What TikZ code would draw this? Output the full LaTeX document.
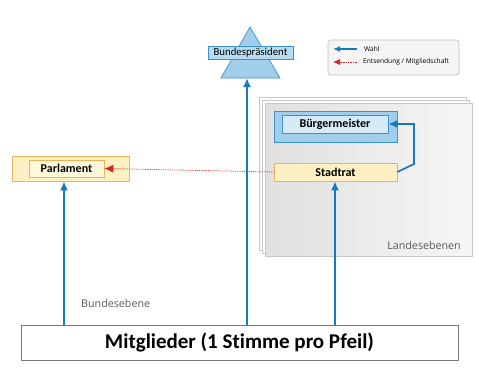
\documentclass[tikz,border=0pt]{standalone}
\usepackage{fontspec}
\setmainfont{Carlito}[Ligatures={NoCommon}]
\newfontfamily\opensansfam{Open Sans}
\usetikzlibrary{arrows.meta}
\definecolor{wahlblue}{RGB}{22,122,192}
\definecolor{entsred}{RGB}{215,35,35}
\definecolor{orgbord}{RGB}{242,178,92}
\definecolor{yelout}{RGB}{253,240,196}
\definecolor{yelin}{RGB}{255,248,218}
\definecolor{bluebord}{RGB}{62,145,205}
\definecolor{blueout}{RGB}{160,206,235}
\definecolor{bluein}{RGB}{214,235,248}
\definecolor{txtgray}{RGB}{90,90,90}
\tikzset{
  wahl/.style={draw=wahlblue, line width=1.7pt, -{Latex[length=9pt,width=8pt]}},
  ents/.style={draw=entsred, densely dotted, line width=0.8pt, -{Latex[length=9pt,width=8pt]}},
  yelbox/.style={draw=orgbord, line width=0.7pt, fill=yelout, inner sep=0pt},
  yelinbox/.style={draw=orgbord, line width=0.7pt, fill=yelin, inner sep=0pt, font=\bfseries\fontsize{12}{13}\selectfont},
  bluebox/.style={draw=bluebord, line width=0.7pt, fill=blueout, inner sep=0pt},
  blueinbox/.style={draw=bluebord, line width=0.7pt, fill=bluein, inner sep=0pt, font=\bfseries\fontsize{12}{13}\selectfont},
  panelback/.style={draw={rgb,255:red,200;green,200;blue,200}, fill=white, line width=0.5pt},
  levellabel/.style={text=txtgray, inner sep=0pt, font=\opensansfam\fontsize{10.7}{12}\selectfont},
  legtext/.style={inner sep=0pt, anchor=west, font=\opensansfam\fontsize{6.6}{7}\selectfont}
}
\begin{document}
\begin{tikzpicture}[x=1pt,y=-1pt]
\useasboundingbox (0,0) rectangle (479,369);
% Landesebenen panels
\draw[panelback] (259,97) rectangle (466,250);
\draw[panelback] (262,100) rectangle (469,253);
\draw[draw={rgb,255:red,200;green,200;blue,200}, line width=0.5pt, left color={rgb,255:red,224;green,224;blue,224}, right color={rgb,255:red,246;green,246;blue,246}] (265,103) rectangle (472,256);
\node[levellabel, anchor=base east] (landlbl) at (461,249) {Landesebenen};
% Buergermeister
\node[bluebox, minimum width=123pt, minimum height=31pt] (bmout) at (335.5,126.5) {};
\node[blueinbox, minimum width=106pt, minimum height=18pt] (bm) at (335,124) {Bürgermeister};
% Stadtrat
\node[yelinbox, fill=yelout, minimum width=123pt, minimum height=18pt] (sr) at (335.5,172) {Stadtrat};
% Parlament
\node[yelbox, minimum width=117pt, minimum height=25pt] (parlout) at (71,168.5) {};
\node[yelinbox, minimum width=75pt, minimum height=17pt] (parl) at (66.5,168.5) {Parlament};
% Bundespraesident triangle
\coordinate (apex) at (250,27);
\coordinate (bl) at (221,78);
\coordinate (br) at (280,78);
\coordinate (tribase) at (247,78);
\draw[draw=bluebord, line width=0.7pt, fill=blueout] (apex) -- (br) -- (bl) -- cycle;
\node[bluebox, fill={rgb,255:red,182;green,220;blue,242}, minimum width=85pt, minimum height=13pt, font=\fontsize{10.8}{11}\selectfont] (bp) at (250.5,52.5) {Bundespräsident};
% Mitglieder
\node[draw={rgb,255:red,120;green,120;blue,120}, line width=0.7pt, fill=white, minimum width=437pt, minimum height=35pt, inner sep=0pt, font=\bfseries\fontsize{21}{24}\selectfont] (mit) at (239.5,342.5) {Mitglieder (1 Stimme pro Pfeil)};
\node[levellabel, anchor=base west] (bundlbl) at (81,307) {Bundesebene};
% Legend
\node[draw={rgb,255:red,190;green,190;blue,190}, fill={rgb,255:red,245;green,245;blue,245}, rounded corners=3pt, line width=0.6pt, minimum width=131pt, minimum height=35pt, inner sep=0pt] (leg) at (393.5,57.5) {};
\coordinate (w1) at (357,49);
\coordinate (w2) at (333,49);
\coordinate (e1) at (357,62);
\coordinate (e2) at (333,62);
\draw[draw=wahlblue, line width=1.3pt, -{Latex[length=7pt,width=6pt]}] (w1) -- (w2);
\draw[draw=entsred, densely dotted, line width=0.7pt, -{Latex[length=7pt,width=6pt]}] (e1) -- (e2);
\node[legtext] (wl) at (364,49) {Wahl};
\node[legtext] (el) at (363,62) {Entsendung / Mitgliedschaft};
% Connectors
\coordinate (parlin) at ([xshift=-2.5pt]parlout.south -| parl.south);
\coordinate (srin) at ([xshift=-0.5pt]sr.south);
\draw[wahl] (mit.north -| parlin) -- (parlin);
\draw[wahl] (mit.north -| tribase) -- (tribase);
\draw[wahl] (mit.north -| srin) -- (srin);
\coordinate (bend) at (414,164);
\draw[wahl] (sr.east) -- (bend) -- (bend |- bm.east) -- (bm.east);
\draw[ents] (sr.west) -- (parl.east);
\end{tikzpicture}
\end{document}
